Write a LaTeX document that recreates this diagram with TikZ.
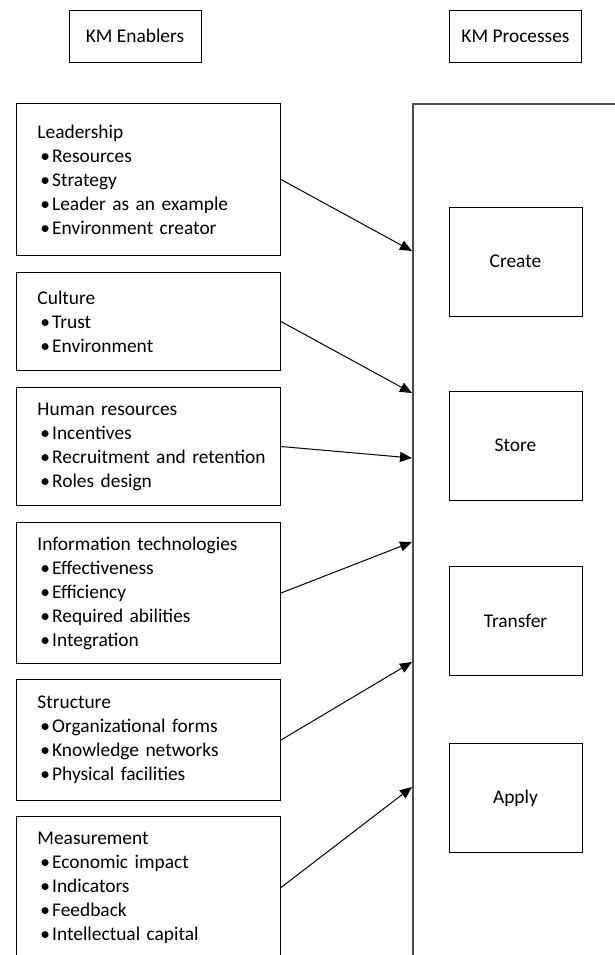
\documentclass[tikz,border=0pt]{standalone}
\usepackage{fontspec}
\setmainfont{Carlito}
\usetikzlibrary{positioning,arrows.meta}
\tikzset{
  feedarrow/.style={-{Triangle[length=6pt,width=5pt]}, line width=0.5pt},
  headbox/.style={draw, line width=0.5pt, minimum width=66pt, minimum height=26pt, inner sep=0pt, align=center},
  procbox/.style={draw, line width=0.5pt, minimum width=66.5pt, minimum height=54.5pt, inner sep=0pt, align=center},
  enabler/.style={draw, line width=0.5pt, anchor=north west, text width=125pt, inner xsep=3.5pt, inner ysep=0pt, align=left},
  container/.style={draw=black!70, line width=0.8pt, anchor=north west, minimum width=120pt, minimum height=440pt, inner sep=0pt}
}
\newcommand{\kmhead}[1]{\hspace*{7pt}#1}
\newcommand{\kmitem}[1]{\\\hspace*{8.5pt}\textbullet\hspace{1pt}#1}

\begin{document}
\begin{tikzpicture}[x=0.5pt, y=-0.5pt, every node/.style={font=\fontsize{9.7pt}{12pt}\selectfont}]
  \useasboundingbox (0,0) rectangle (615,955);
  \clip (0,0) rectangle (615,955);
  % headings
  \node[headbox] (enh) at (135,36) {KM Enablers};
  \node[headbox] (prh) at (515.5,36) {KM Processes};
  % enablers
  \node[enabler, minimum height=76pt] (lead) at (16,103) {\kmhead{Leadership}\kmitem{Resources}\kmitem{Strategy}\kmitem{Leader as an example}\kmitem{Environment creator}};
  \node[enabler, minimum height=49pt] (cult) at (16,272) {\kmhead{Culture}\kmitem{Trust}\kmitem{Environment}};
  \node[enabler, minimum height=59pt] (human) at (16,387) {\kmhead{Human resources}\kmitem{Incentives}\kmitem{Recruitment and retention}\kmitem{Roles design}};
  \node[enabler, minimum height=70.5pt] (infotech) at (16,522) {\kmhead{Information technologies}\kmitem{Effectiveness}\kmitem{Efficiency}\kmitem{Required abilities}\kmitem{Integration}};
  \node[enabler, minimum height=60.5pt] (struct) at (16,679) {\kmhead{Structure}\kmitem{Organizational forms}\kmitem{Knowledge networks}\kmitem{Physical facilities}};
  \node[enabler, minimum height=71pt] (measure) at (16,816) {\kmhead{Measurement}\kmitem{Economic impact}\kmitem{Indicators}\kmitem{Feedback}\kmitem{Intellectual capital}};
  % processes
  \node[container] (procs) at (412,103) {};
  \node[procbox] (create) at (515.5,261.5) {Create};
  \node[procbox] (store) at (515.5,445.5) {Store};
  \node[procbox] (transfer) at (515.5,620.5) {Transfer};
  \node[procbox] (apply) at (515.5,798) {Apply};
  \coordinate (in1) at (412,251);
  \coordinate (in2) at (412,393);
  \coordinate (in3) at (412,458);
  \coordinate (in4) at (412,542);
  \coordinate (in5) at (412,662);
  \coordinate (in6) at (412,787);
  \draw[feedarrow] (lead.east) -- (in1);
  \draw[feedarrow] (cult.east) -- (in2);
  \draw[feedarrow] (human.east) -- (in3);
  \draw[feedarrow] (infotech.east) -- (in4);
  \draw[feedarrow] (struct.east) -- (in5);
  \draw[feedarrow] (measure.east) -- (in6);
\end{tikzpicture}
\end{document}
